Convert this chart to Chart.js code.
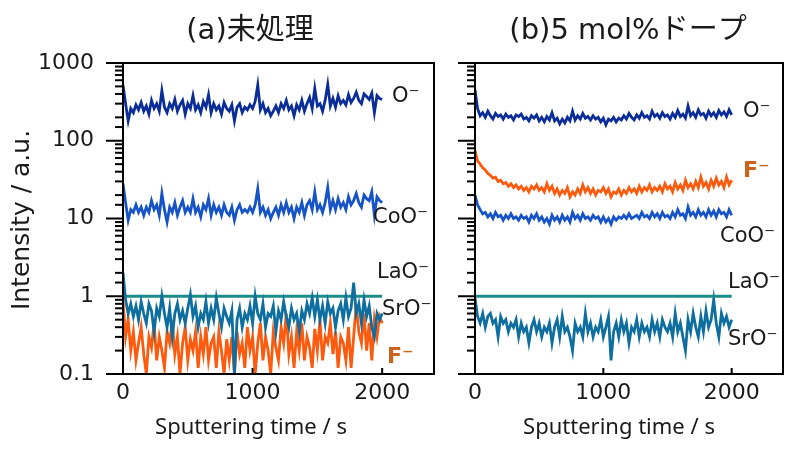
<!DOCTYPE html>
<html><head><meta charset="utf-8">
<script src="https://cdn.jsdelivr.net/npm/chart.js@4"></script>
<style>
body{margin:0;background:#fff;width:787px;height:450px;overflow:hidden;position:relative}
canvas{position:absolute;top:0}
#ca{left:0}#cb{left:440px}
</style></head><body>
<canvas id="ca" width="440" height="450"></canvas>
<canvas id="cb" width="347" height="450"></canvas>
<script>
// Sputtering time (s)
const time = [0,20,40,60,80,100,120,140,160,180,200,220,240,260,280,300,320,340,360,380,400,420,440,460,480,500,520,540,560,580,600,620,640,660,680,700,720,740,760,780,800,820,840,860,880,900,920,940,960,980,1000,1020,1040,1060,1080,1100,1120,1140,1160,1180,1200,1220,1240,1260,1280,1300,1320,1340,1360,1380,1400,1420,1440,1460,1480,1500,1520,1540,1560,1580,1600,1620,1640,1660,1680,1700,1720,1740,1760,1780,1800,1820,1840,1860,1880,1900,1920,1940,1960,1980,2000];
const laoTime = [0, 2000];
const laoVal = [1, 1];

// (a) untreated
const aO = [520,300,180,260,230,290,250,310,240,280,220,330,260,300,240,440,270,230,300,260,340,240,290,330,220,300,260,380,250,290,230,320,270,390,230,300,250,280,220,310,260,240,290,180,270,300,230,270,250,290,260,320,520,250,300,230,260,210,240,280,230,300,260,330,250,280,210,290,250,330,240,300,360,260,470,280,300,240,330,530,280,350,270,380,300,330,290,390,310,350,420,330,300,400,370,340,410,230,380,350,340];
const aCoO = [28,16,9.5,13,12,15,12,14,11,14,12,17,13,15,11,21,13,9,14,12,16,11,14,17,12,14,12,18,12,14,10.5,15,13,18,11,15,12,14,11,15,12,11,14,9.5,13,15,12,13,12,14,12,15,24,12,14,11,13,10,12,14,11,15,12,16,12,14,10,14,12,16,11,15,17,13,22,13,15,12,16,25,13,17,13,18,14,16,13,19,15,17,21,16,14,20,18,17,22,11,19,17,16];
const aSrO = [2.0,0.9,0.6,0.8,0.55,0.75,0.5,0.85,0.6,0.45,0.8,0.65,0.35,0.7,0.55,1.0,0.6,0.4,0.7,0.3,0.6,0.8,0.5,0.65,0.45,0.7,1.05,0.55,0.75,0.4,0.6,0.5,0.85,0.45,0.7,0.5,0.95,0.6,0.4,0.7,0.55,0.45,0.65,0.1,0.5,0.7,0.4,0.6,0.5,0.75,0.45,1.0,0.6,0.5,0.8,0.4,0.6,0.55,0.75,0.35,0.65,0.5,0.85,0.55,0.4,0.7,0.5,0.6,0.35,0.65,0.5,0.8,0.6,0.95,0.55,0.9,0.5,0.75,0.45,0.85,0.6,0.7,0.4,0.65,0.8,0.5,0.95,0.55,0.7,1.5,0.6,0.8,0.45,0.9,0.55,0.75,0.4,0.3,0.6,0.5,0.6];
const aF = [0.9,0.3,0.5,0.2,0.35,0.15,0.25,0.4,0.18,0.1,0.3,0.22,0.45,0.15,0.3,0.2,0.12,0.35,0.25,0.5,0.18,0.3,0.1,0.25,0.4,0.15,0.28,0.2,0.35,0.12,0.3,0.18,0.4,0.15,0.25,0.3,0.12,0.35,0.2,0.1,0.28,0.15,0.3,0.1,0.35,0.18,0.25,0.12,0.4,0.2,0.3,0.1,0.25,0.45,0.15,0.3,0.2,0.1,0.35,0.22,0.15,0.4,0.25,0.6,0.18,0.3,0.12,0.35,0.2,0.45,0.15,0.3,0.22,0.12,0.38,0.2,0.5,0.15,0.3,0.25,0.45,0.18,0.35,0.12,0.3,0.25,0.15,0.4,0.12,0.3,0.8,0.35,0.25,0.6,0.2,0.45,0.15,0.5,0.3,0.55,0.45];

// (b) 5 mol% doped
const bO = [450,260,210,230,200,240,210,190,225,205,215,190,220,200,210,185,215,205,220,190,200,180,210,195,215,180,200,175,205,185,230,180,195,165,190,170,200,180,240,185,210,190,225,195,205,185,210,190,200,175,195,160,190,180,200,175,195,185,210,190,225,200,185,215,195,230,200,210,190,240,205,220,195,230,205,215,190,225,200,245,205,220,195,280,210,230,200,250,215,225,195,240,210,230,200,245,215,235,205,250,215];
const bF = [75,55,50,45,42,38,36,33,34,30,31,28,29,26,28,25,27,24,26,23,25,22,26,24,27,23,25,22,28,23,26,21,24,20,23,21,25,19,22,20,24,21,27,22,25,21,24,20,23,22,25,21,24,19,22,21,24,20,23,21,25,22,24,21,26,22,25,23,27,22,25,23,26,22,28,24,26,22,29,24,27,23,31,25,28,24,30,25,34,26,29,24,31,26,33,27,30,25,34,27,31];
const bCoO = [20,15,13,11.5,12,10.5,11.5,10,12,10.5,11,9.5,11,10,11.5,10,10.5,9.5,11,10,10.5,9,11,10,11.5,9.5,10.5,9,10,8.5,11,9.5,10.5,9,11,9.5,10.5,9,12,10,11,9.5,11.5,10,10.5,9.5,11,10,10.5,9,10.5,9,10,8.5,10.5,9.5,10.5,10,11,10,11.5,10,10.5,11,10,12,10.5,11,10,12,10.5,11.5,10,12,10.5,11,10,12,10.5,13,11,11.5,10,14,11,12,10.5,13,11,12,10.5,13,11,12.5,10.5,13,11.5,12,10.5,13,11];
const bSrO = [0.95,0.55,0.45,0.6,0.4,0.55,0.6,0.45,0.5,0.3,0.55,0.45,0.5,0.35,0.45,0.4,0.5,0.3,0.45,0.35,0.4,0.25,0.4,0.5,0.35,0.45,0.3,0.4,0.35,0.45,0.25,0.4,0.5,0.3,0.55,0.35,0.4,0.3,0.2,0.45,0.35,0.4,0.3,0.6,0.35,0.45,0.3,0.4,0.35,0.5,0.3,0.4,0.55,0.15,0.35,0.45,0.3,0.5,0.35,0.45,0.25,0.4,0.35,0.5,0.3,0.45,0.35,0.4,0.3,0.5,0.35,0.45,0.3,0.5,0.4,0.35,0.45,0.3,0.6,0.35,0.45,0.3,0.2,0.5,0.35,0.6,0.4,0.3,0.55,0.35,0.65,0.4,0.5,0.9,0.45,0.3,0.6,0.45,0.55,0.4,0.5];

const xTicks = [0, 1000, 2000];
const yTicks = [0.1, 1, 10, 100, 1000];

const C = {O:'#0b2d98', CoO:'#1553c6', SrO:'#0e6e9f', F:'#ff5a0d', LaO:'#1c8c88', Flab:'#c8641e', text:'#1a1a1a'};
const FONT = '"DejaVu Sans", "Noto Sans CJK JP", sans-serif';
const NFONT = '"Noto Sans", "DejaVu Sans", sans-serif';

function pts(xs, ys){ return xs.map((x,i)=>({x:x, y:ys[i]})); }
function ds(label, xs, ys, color){
  return {label, data: pts(xs, ys), borderColor: color, borderWidth: 2.8, pointRadius: 0, tension: 0, fill: false};
}

function framePlugin(texts){
  return {
    id: 'frame',
    afterDraw(chart){
      const ctx = chart.ctx, ca = chart.chartArea, xs = chart.scales.x, ys = chart.scales.y;
      ctx.save();
      ctx.strokeStyle = '#000'; ctx.lineWidth = 2;
      ctx.strokeRect(ca.left, ca.top, ca.right - ca.left, ca.bottom - ca.top);
      ys.ticks.forEach(t => {
        const py = ys.getPixelForValue(t.value);
        const lg = Math.log10(t.value);
        const major = Math.abs(lg - Math.round(lg)) < 1e-6;
        const len = major ? 17 : 8;
        ctx.beginPath(); ctx.moveTo(ca.left - len, py); ctx.lineTo(ca.left, py); ctx.stroke();
      });
      xs.ticks.forEach(t => {
        const px = xs.getPixelForValue(t.value);
        ctx.beginPath(); ctx.moveTo(px, ca.bottom); ctx.lineTo(px, ca.bottom - 6); ctx.stroke();
      });
      texts.forEach(o => {
        ctx.save();
        ctx.fillStyle = o.color || C.text;
        ctx.font = (o.weight || 'normal') + ' ' + o.size + 'px ' + (o.family || FONT);
        ctx.textAlign = o.align || 'left';
        ctx.textBaseline = 'middle';
        ctx.translate(o.x, o.y);
        if (o.rot) ctx.rotate(o.rot);
        ctx.fillText(o.t, 0, 0);
        ctx.restore();
      });
      ctx.restore();
    }
  };
}

function makeChart(id, datasets, yLeftWidth, padRight, showYLabels, texts){
  return new Chart(document.getElementById(id), {
    type: 'line',
    data: { datasets },
    options: {
      responsive: false, animation: false, devicePixelRatio: 1,
      layout: { padding: { top: 63, right: padRight, left: 0, bottom: 0 } },
      plugins: { legend: { display: false }, tooltip: { enabled: false }, title: { display: false } },
      scales: {
        x: {
          type: 'linear', min: 0, max: 2400,
          afterBuildTicks: s => { s.ticks = xTicks.map(v => ({value: v})); },
          afterFit: s => { s.height = 76; },
          grid: { display: false, drawTicks: false },
          border: { display: false },
          ticks: { color: C.text, font: { size: 22, family: FONT }, padding: 6, maxRotation: 0,
                   callback: v => String(v) }
        },
        y: {
          type: 'logarithmic', min: 0.1, max: 1000,
          afterFit: s => { s.width = yLeftWidth; },
          grid: { display: false, drawTicks: false },
          border: { display: false },
          ticks: { display: showYLabels, color: C.text, font: { size: 22, family: FONT }, padding: 29, autoSkip: false,
                   callback: v => yTicks.some(t => Math.abs(t - v) < 1e-9) ? String(v) : '' }
        }
      }
    },
    plugins: [framePlugin(texts)]
  });
}

makeChart('ca', [
  ds('O⁻', time, aO, C.O),
  ds('CoO⁻', time, aCoO, C.CoO),
  ds('SrO⁻', time, aSrO, C.SrO),
  ds('F⁻', time, aF, C.F),
  ds('LaO⁻', laoTime, laoVal, C.LaO)
], 123, 6, true, [
  {t:'(a)未処理', x:250, y:31, size:29, align:'center'},
  {t:'Sputtering time / s', x:251, y:428, size:22, align:'center', family: NFONT},
  {t:'Intensity / a.u.', x:22, y:220, size:25, align:'center', rot:-Math.PI/2},
  {t:'O⁻', x:392, y:97, size:21},
  {t:'CoO⁻', x:373, y:218, size:21},
  {t:'LaO⁻', x:377, y:273, size:21},
  {t:'SrO⁻', x:382, y:310, size:21},
  {t:'F⁻', x:387, y:357, size:22, weight:'bold', color:C.Flab}
]);

makeChart('cb', [
  ds('O⁻', time, bO, C.O),
  ds('F⁻', time, bF, C.F),
  ds('CoO⁻', time, bCoO, C.CoO),
  ds('LaO⁻', laoTime, laoVal, C.LaO),
  ds('SrO⁻', time, bSrO, C.SrO)
], 35, 4, false, [
  {t:'(b)5 mol%ドープ', x:188, y:31, size:29, align:'center'},
  {t:'Sputtering time / s', x:179, y:428, size:22, align:'center', family: NFONT},
  {t:'O⁻', x:303, y:112, size:21},
  {t:'F⁻', x:303, y:171, size:22, weight:'bold', color:C.Flab},
  {t:'CoO⁻', x:280, y:237, size:21},
  {t:'LaO⁻', x:288, y:283, size:21},
  {t:'SrO⁻', x:288, y:340, size:21}
]);
</script>
</body></html>
